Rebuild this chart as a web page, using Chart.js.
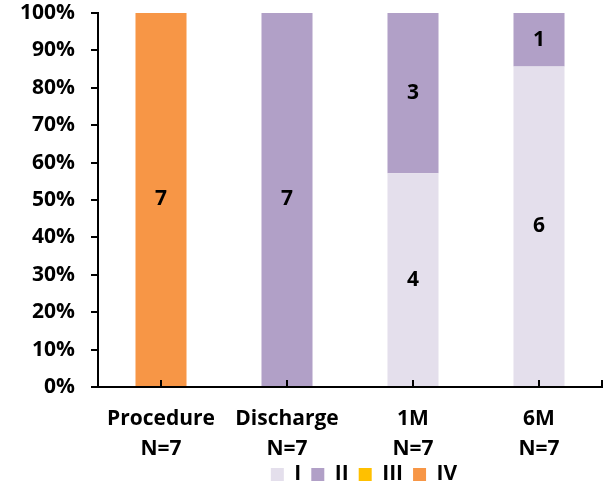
<!DOCTYPE html>
<html>
<head>
<meta charset="utf-8">
<script src="https://cdn.jsdelivr.net/npm/chart.js@4/dist/chart.umd.min.js"></script>
<style>
  html, body { margin: 0; padding: 0; background: #fff; }
  #wrap { width: 616px; height: 495px; }
</style>
</head>
<body>
<div id="wrap"><canvas id="c" width="616" height="495"></canvas></div>
<script>
// Patient counts per grade at each time point
const categories = ['Procedure', 'Discharge', '1M', '6M'];
const groupSize = [7, 7, 7, 7];
const gradeI = [0, 0, 4, 6];
const gradeII = [0, 7, 3, 1];
const gradeIII = [0, 0, 0, 0];
const gradeIV = [7, 0, 0, 0];
const gradeNames = ['I', 'II', 'III', 'IV'];
const gradeColors = ['#E4DFEC', '#B1A0C7', '#FFC000', '#F79646'];
const yTickValues = [0, 10, 20, 30, 40, 50, 60, 70, 80, 90, 100];

const FONT = "'Open Sans', 'DejaVu Sans', sans-serif";
const FSIZE = 21;
const counts = [gradeI, gradeII, gradeIII, gradeIV];

// stacked shares in percent of each group
const toPct = arr => arr.map((v, i) => 100 * v / groupSize[i]);

const datasets = counts.map((arr, k) => ({
  label: gradeNames[k],
  data: toPct(arr),
  counts: arr,
  backgroundColor: gradeColors[k],
  borderWidth: 0,
  barPercentage: 0.405,
  categoryPercentage: 1.0
}));

// count labels centred in each segment
const segmentLabels = {
  id: 'segmentLabels',
  afterDatasetsDraw(chart) {
    const ctx = chart.ctx;
    ctx.save();
    ctx.font = "bold " + FSIZE + "px " + FONT;
    ctx.fillStyle = '#000';
    ctx.textAlign = 'center';
    ctx.textBaseline = 'middle';
    chart.data.datasets.forEach((ds, di) => {
      const meta = chart.getDatasetMeta(di);
      meta.data.forEach((el, i) => {
        const n = ds.counts[i];
        if (!n) return;
        ctx.fillText(String(n), el.x, (el.y + el.base) / 2);
      });
    });
    ctx.restore();
  }
};

// inward tick marks on the category axis
const innerTicks = {
  id: 'innerTicks',
  afterDraw(chart) {
    const ctx = chart.ctx;
    const xs = chart.scales.x;
    const bottom = chart.chartArea.bottom;
    ctx.save();
    ctx.strokeStyle = '#000';
    ctx.lineWidth = 2;
    ctx.beginPath();
    categories.forEach((_, i) => {
      const x = Math.round(xs.getPixelForValue(i));
      ctx.moveTo(x, bottom);
      ctx.lineTo(x, bottom - 7);
    });
    const r = chart.chartArea.right;
    ctx.moveTo(r, bottom);
    ctx.lineTo(r, bottom - 7);
    ctx.stroke();
    ctx.restore();
  }
};

// let the two-line category labels extend into the legend band,
// and sit the legend a little right of centre
const labelRoom = {
  id: 'labelRoom',
  afterLayout(chart) {
    chart.scales.x.bottom = chart.height;
    chart.legend.left += 63;
    chart.legend.right += 63;
  }
};

new Chart(document.getElementById('c'), {
  type: 'bar',
  data: {
    labels: categories.map((c, i) => [c, 'N=' + groupSize[i]]),
    datasets
  },
  options: {
    responsive: false,
    animation: false,
    layout: { padding: { top: 13, right: 14, left: 0, bottom: 0 } },
    plugins: {
      legend: {
        position: 'bottom',
        labels: {
          font: { family: FONT, size: FSIZE, weight: 'bold' },
          color: '#000',
          boxWidth: 13,
          boxHeight: 13,
          padding: 10
        }
      },
      tooltip: { enabled: false }
    },
    scales: {
      x: {
        stacked: true,
        afterFit(scale) { scale.height = 67; scale.paddingLeft = 0; scale.paddingRight = 0; },
        grid: { display: false, drawTicks: false },
        border: { display: true, color: '#000', width: 2 },
        ticks: {
          font: { family: FONT, size: FSIZE, weight: 'bold', lineHeight: 1.42 },
          color: '#000',
          padding: 17,
          maxRotation: 0
        }
      },
      y: {
        stacked: true,
        min: 0,
        max: 100,
        afterFit(scale) { scale.width = 98; scale.paddingTop = 0; scale.paddingBottom = 0; },
        afterBuildTicks(scale) { scale.ticks = yTickValues.map(v => ({ value: v })); },
        grid: { drawOnChartArea: false, drawTicks: true, tickLength: 7, color: '#000', lineWidth: 2 },
        border: { display: true, color: '#000', width: 2 },
        ticks: {
          font: { family: FONT, size: FSIZE, weight: 'bold' },
          color: '#000',
          padding: 16,
          callback: v => v + '%'
        }
      }
    }
  },
  plugins: [segmentLabels, innerTicks, labelRoom]
});
</script>
</body>
</html>
